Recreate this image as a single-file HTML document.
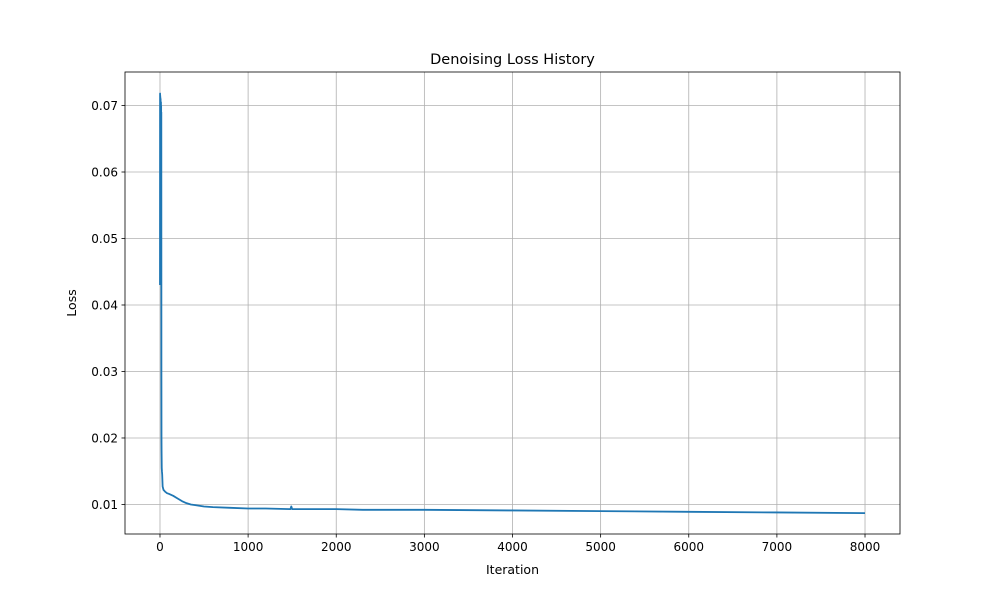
<!DOCTYPE html>
<html><head><meta charset="utf-8"><style>
body{margin:0;background:#fff;font-family:"Liberation Sans","DejaVu Sans",sans-serif}
</style></head><body>
<svg id="chart" width="1000" height="600" xmlns="http://www.w3.org/2000/svg" font-family="'DejaVu Sans','Liberation Sans',sans-serif">
<rect width="1000" height="600" fill="#fff"/>
<g id="grid"></g><g id="series"></g><g id="axes"></g>
<text x="512.5" y="64" text-anchor="middle" font-size="14.5">Denoising Loss History</text>
<text x="512.5" y="574" text-anchor="middle" font-size="12.5">Iteration</text>
<text transform="translate(76,303) rotate(-90)" text-anchor="middle" font-size="12.5">Loss</text>
</svg>
<script>
const iterations=[0,1,2,3,4,5,6,7,8,9,10,11,12,13,14,15,16,17,18,20,22,25,30,40,60,80,100,150,200,250,300,350,400,500,600,800,1000,1200,1480,1490,1500,1800,2000,2300,3000,4000,5000,6000,7000,8000];
const lossValues=[0.043,0.0718,0.045,0.0715,0.047,0.0712,0.05,0.071,0.052,0.07,0.049,0.0705,0.048,0.07,0.05,0.069,0.03,0.02,0.018,0.0155,0.015,0.0145,0.0127,0.0122,0.0119,0.0117,0.0116,0.0113,0.0109,0.0105,0.0102,0.0100,0.0099,0.0097,0.0096,0.0095,0.0094,0.0094,0.0093,0.0097,0.0093,0.0093,0.0093,0.0092,0.0092,0.0091,0.0090,0.0089,0.0088,0.0087];
const xTicks=[0,1000,2000,3000,4000,5000,6000,7000,8000];
const yTicks=[0.01,0.02,0.03,0.04,0.05,0.06,0.07];
const L=125,R=900,T=72,B=534;
const xMin=-397,xMax=8397,yMin=0.00556,yMax=0.07504;
const sx=v=>L+(v-xMin)/(xMax-xMin)*(R-L);
const sy=v=>B-(v-yMin)/(yMax-yMin)*(B-T);
const NS="http://www.w3.org/2000/svg";
function mk(tag,attrs,parent,txt){const e=document.createElementNS(NS,tag);for(const k in attrs)e.setAttribute(k,attrs[k]);if(txt!==undefined)e.textContent=txt;document.getElementById(parent).appendChild(e);return e;}
xTicks.forEach(t=>{const x=sx(t);
 const g=mk('line',{x1:x,x2:x,y1:T,y2:B,stroke:'#b0b0b0','stroke-width':0.8},'grid');
 
 
 mk('line',{x1:x,x2:x,y1:B,y2:B+3.5,stroke:'#000','stroke-width':0.8},'axes');
 const l=mk('text',{x:x,y:B+17,'text-anchor':'middle','font-size':12},'axes',String(t));
 
 });
yTicks.forEach(t=>{const y=sy(t);
 const g=mk('line',{x1:L,x2:R,y1:y,y2:y,stroke:'#b0b0b0','stroke-width':0.8},'grid');
 
 
 mk('line',{x1:L-3.5,x2:L,y1:y,y2:y,stroke:'#000','stroke-width':0.8},'axes');
 const l=mk('text',{x:L-7,y:y+4.5,'text-anchor':'end','font-size':12},'axes',t.toFixed(2));
 
 });
const fr=mk('rect',{x:L,y:T,width:R-L,height:B-T,fill:'none',stroke:'#000','stroke-width':0.8},'axes');


const d=iterations.map((v,i)=>(i?'L':'M')+sx(v).toFixed(2)+','+sy(lossValues[i]).toFixed(2)).join(' ');
const p=mk('path',{d:d,fill:'none',stroke:'#1f77b4','stroke-width':1.8,'stroke-linejoin':'round'},'series');


</script>
</body></html>
